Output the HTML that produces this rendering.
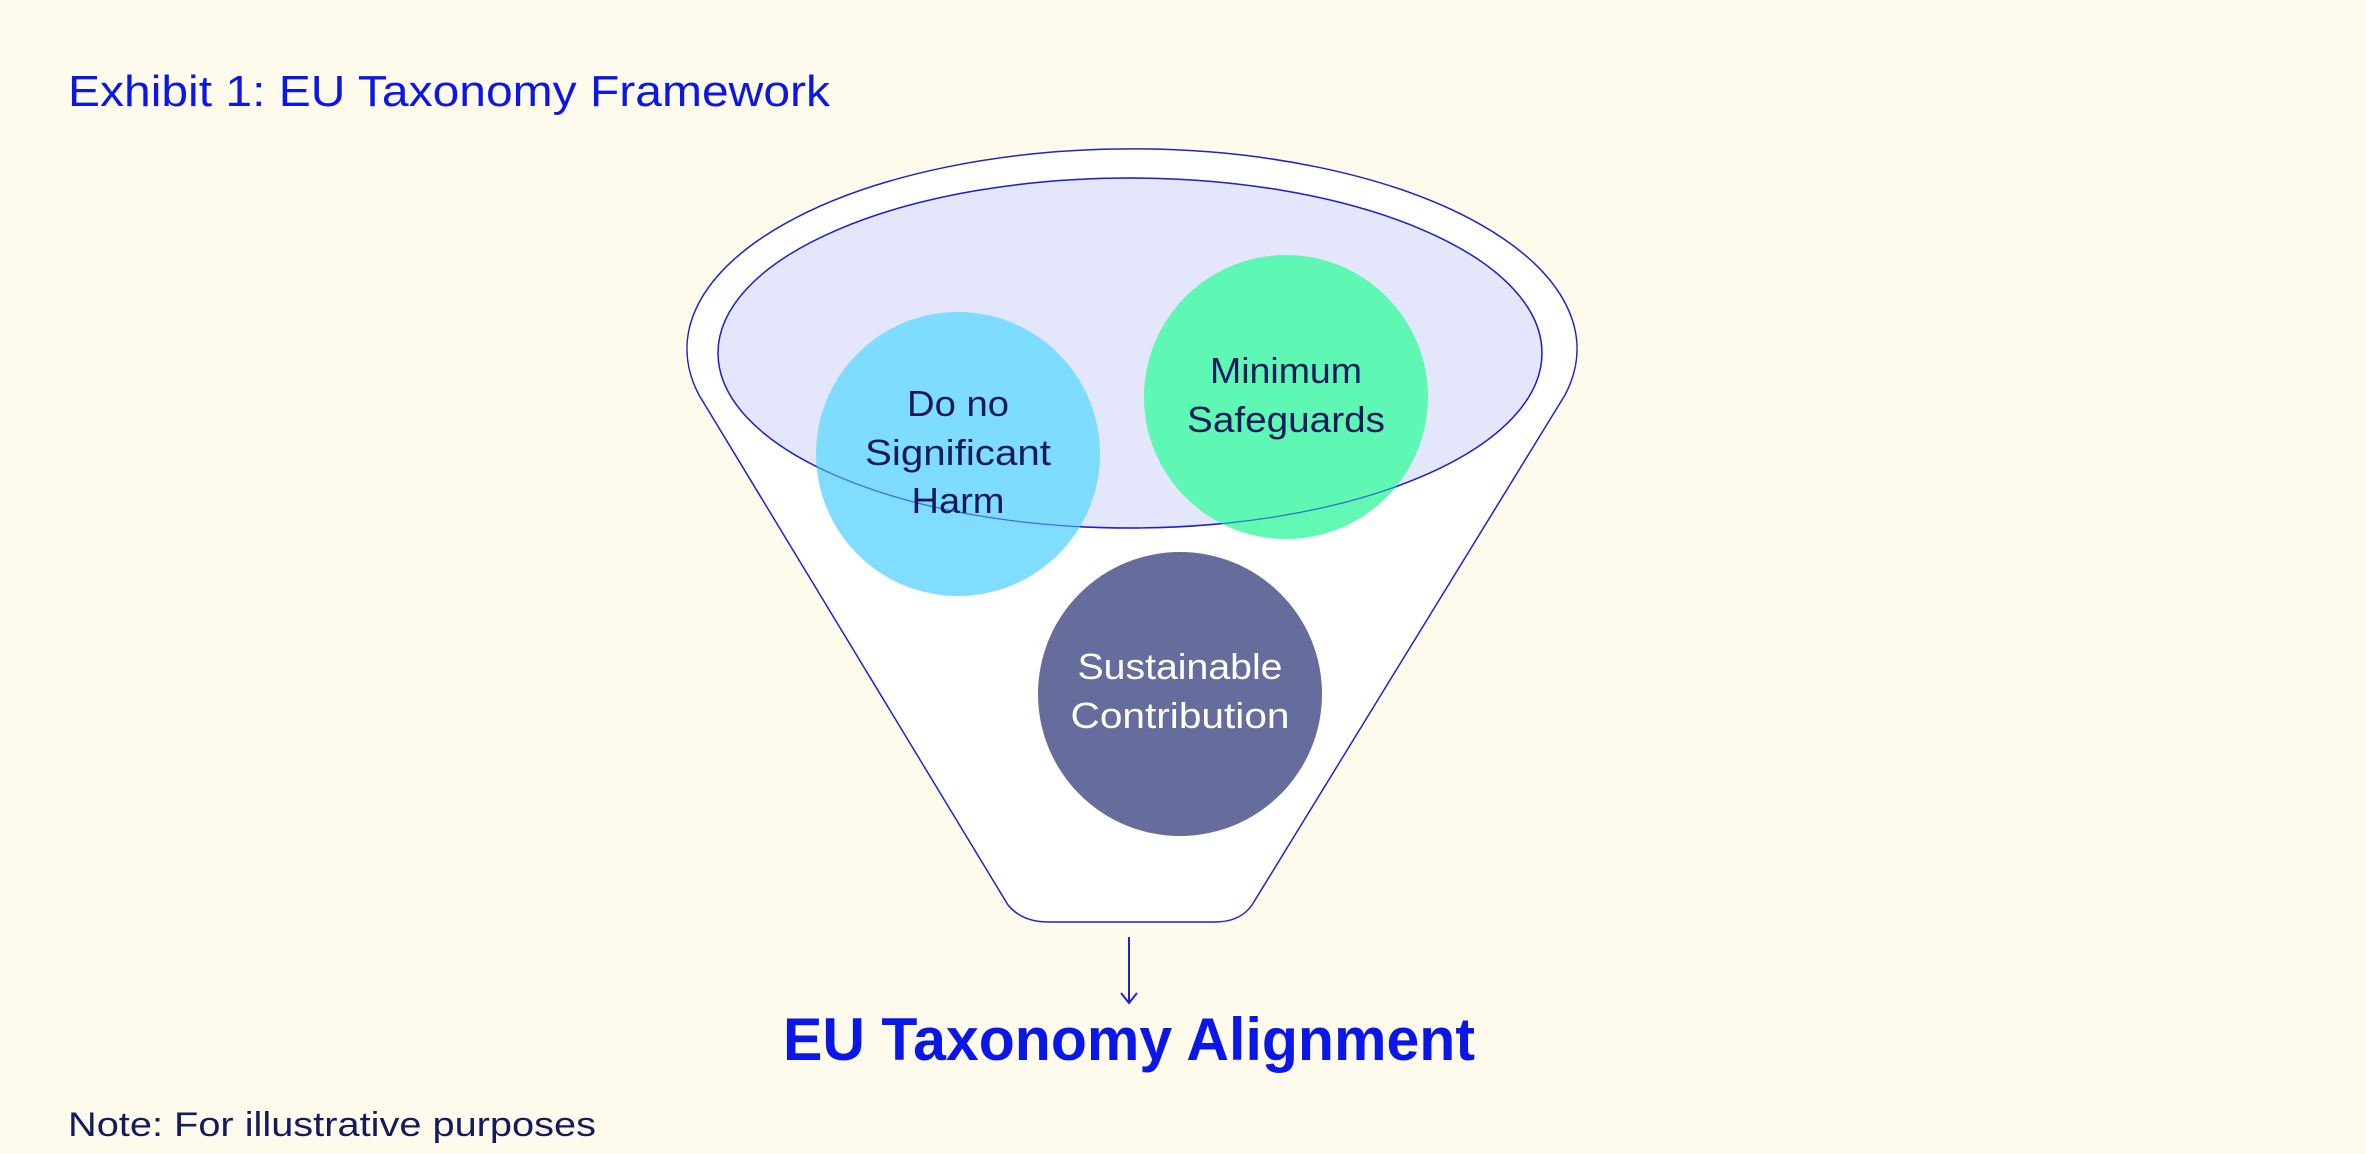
<!DOCTYPE html>
<html><head><meta charset="utf-8"><style>
html,body{margin:0;padding:0;background:#fefbec;}
svg{display:block;}
text{font-family:"Liberation Sans",sans-serif;}
</style></head><body>
<svg width="2366" height="1154" viewBox="0 0 2366 1154" xmlns="http://www.w3.org/2000/svg">
<rect width="2366" height="1154" fill="#fefbec"/>
<text x="68" y="106" font-size="44" fill="#0a17e8" textLength="762" lengthAdjust="spacingAndGlyphs">Exhibit 1: EU Taxonomy Framework</text>
<path d="M699,395 A445,200 0 1 1 1565,395 L1252,905 Q1240,922 1215,922 L1048,922 Q1022,922 1008,905 Z" fill="#ffffff" stroke="#1e22d0" stroke-width="1.5"/>
<ellipse cx="1130" cy="353" rx="412" ry="175" fill="#e4e6fb" stroke="#1e22d0" stroke-width="1.5"/>
<circle cx="958" cy="454" r="142" fill="#76daff" fill-opacity="0.93"/>
<circle cx="1286" cy="397" r="142" fill="#55f7ae" fill-opacity="0.93"/>
<circle cx="1180" cy="694" r="142" fill="#666d9d"/>
<ellipse cx="1130" cy="353" rx="412" ry="175" fill="none" stroke="#1e22d0" stroke-width="1.2" stroke-opacity="0.6"/>
<g font-size="36" fill="#151a5c" text-anchor="middle">
<text x="958" y="416" textLength="102" lengthAdjust="spacingAndGlyphs">Do no</text>
<text x="958" y="465" textLength="186" lengthAdjust="spacingAndGlyphs">Significant</text>
<text x="958" y="513" textLength="93" lengthAdjust="spacingAndGlyphs">Harm</text>
<text x="1286" y="383" textLength="152" lengthAdjust="spacingAndGlyphs">Minimum</text>
<text x="1286" y="432" textLength="198" lengthAdjust="spacingAndGlyphs">Safeguards</text>
</g>
<g font-size="36" fill="#ffffff" text-anchor="middle">
<text x="1180" y="679" textLength="205" lengthAdjust="spacingAndGlyphs">Sustainable</text>
<text x="1180" y="728" textLength="219" lengthAdjust="spacingAndGlyphs">Contribution</text>
</g>
<line x1="1129" y1="937" x2="1129" y2="1002" stroke="#1e22d0" stroke-width="2"/>
<path d="M1121,993 L1129,1003 L1137,993" fill="none" stroke="#1e22d0" stroke-width="2"/>
<text x="1129" y="1060" font-size="60" font-weight="bold" fill="#0a17e8" text-anchor="middle" textLength="692" lengthAdjust="spacingAndGlyphs">EU Taxonomy Alignment</text>
<text x="68" y="1136" font-size="34" fill="#151a5c" textLength="528" lengthAdjust="spacingAndGlyphs">Note: For illustrative purposes</text>
</svg>
</body></html>
